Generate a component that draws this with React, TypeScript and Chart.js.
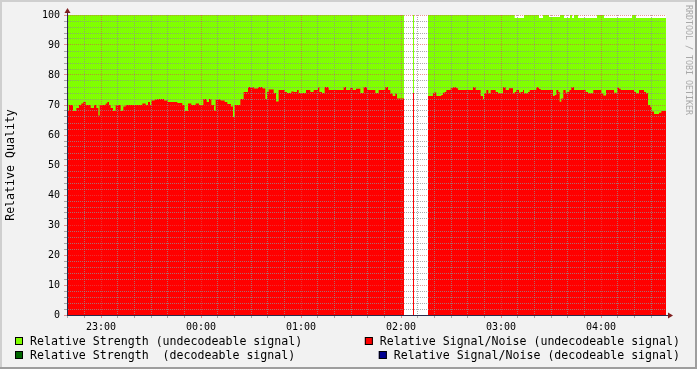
import React, { useEffect, useRef } from "react";
import { Chart, registerables } from "chart.js";

Chart.register(...registerables);

const CANVAS_W = 697;
const CANVAS_H = 369;

// x axis: minutes after 22:00
const xStart = 39.6;
const xEnd = 399;
const hourMinutes = [60, 120, 180, 240, 300, 360];
const hourLabels = ["23:00", "00:00", "01:00", "02:00", "03:00", "04:00"];
const xGridStep = 10; // minutes between minor grid lines
const yMin = 0;
const yMax = 100;
const yGridStep = 2;
const yLabelStep = 10;

// Relative Signal/Noise (undecodeable signal): change points (value holds until next point), segment 1
const snrTimesA = [
  39.6, 40.8, 43.2, 45.2, 46.8, 48.2, 49.4, 50.8, 53.8, 55.8, 57.2, 58.4, 59.2, 62.8, 63.8, 64.8,
  65.8, 67.2, 68.8, 71.8, 73.4, 74.8, 84.8, 86.8, 88.2, 89.4, 90.2, 92.2, 93.8, 97.8, 100.2, 105.8,
  108.8, 110.2, 112.2, 114.2, 116.8, 118.8, 121.4, 123.4, 124.8, 126.2, 127.8, 128.8, 131.8, 134.2,
  135.8, 138.0, 139.2, 140.2, 143.6, 145.6, 148.2, 151.6, 154.2, 157, 158.6, 159.6, 160.6, 163.6,
  165, 166.6, 170.2, 171.6, 174.2, 175.6, 177.6, 178.6, 183, 185.6, 187.6, 190.2, 191, 192.6, 194.2,
  196.6, 205.6, 207, 209.6, 211, 213, 215.6, 217.6, 219.6, 224.6, 226.6, 230.6, 232.2, 233.6, 235,
  236.6, 237.6, 241.8,
];
const snrValuesA = [
  68, 70, 68, 69, 70, 70.5, 71, 70, 69, 70, 69, 66.5, 70, 70.5, 71, 70,
  69, 68, 70, 68, 69.5, 70, 70.5, 70, 71, 70, 71.5, 71.8, 72, 71.5, 71, 70.7,
  70, 68, 70.5, 70, 70.5, 70, 72, 71, 72, 70, 68, 71.8, 71.5, 71,
  70.3, 69.5, 66, 70, 72, 74.3, 76, 75.5, 76, 75.5, 72, 74.3, 75.2, 74,
  71.2, 75, 74.3, 74, 74.5, 74.3, 75, 74, 75, 74.3, 75, 76, 74.3, 74, 76,
  75, 76, 75, 75.7, 75, 75.4, 74, 76, 75, 74, 75, 76, 75, 73.8, 73,
  73.8, 72.2, 72.2,
];
// segment 2 (single sample)
const snrTimesB = [247.2, 247.8];
const snrValuesB = [74, 74];
// segment 3
const snrTimesC = [
  256.2, 259.2, 259.8, 261.2, 264.2, 265.2, 266.2, 267.2, 269.8, 271.2, 273.2, 274.2, 283.2, 284.8,
  287.8, 289.2, 289.8, 291.2, 292.4, 293.8, 296.8, 298.2, 301.2, 302.8, 304.8, 307.2, 308.2, 309.2,
  310.8, 311.8, 313.2, 313.8, 316.2, 317.2, 321.2, 322.8, 323.8, 331.2, 332.2, 333.2, 334.4, 335.2,
  336.2, 337.4, 338.8, 339.8, 341, 342.2, 343.8, 350.8, 352.2, 355.4, 360.2, 361.4, 363, 367.8,
  369.8, 370.8, 371.8, 379.8, 381, 382.8, 385.8, 387, 388.2, 389.4, 390.4, 391.8, 394.8, 396.2, 399,
];
const snrValuesC = [
  73, 73.9, 74.2, 73, 73.3, 74.1, 74.3, 75, 75.6, 75.9, 75.6, 75, 75.9, 75,
  73, 71.9, 73.9, 75, 73.9, 75, 74.3, 73.9, 75.9, 75, 75.6, 73.9, 74.3, 75,
  74.1, 74.3, 75, 73.9, 74.3, 75, 75.9, 75.3, 75, 73, 73.3, 75, 74.3, 71.1,
  72.2, 75, 74.1, 74.3, 75, 75.9, 75, 74.3, 73.9, 75, 73.9, 73.2, 75, 74.1,
  75.9, 75.4, 75, 74.3, 73.9, 75, 74.3, 73.9, 70, 69.4, 67.8, 67, 67.4, 68, 68,
];
const gapTimes = [244, 252];

// Relative Strength (undecodeable signal): change points (value holds until next point)
const strengthTimes = [
  39.6, 241.8, 244, 247.2, 247.8, 252, 256.2, 308.2, 313.8, 322.8, 325.2, 328.8, 335.4, 337.8,
  341.4, 342.6, 343.8, 346.2, 357.6, 361.8, 378.6, 381, 399,
];
const strengthValues = [
  100, 100, null, 100, 100, null, 100, 99, 100, 99, 100, 99.3, 100, 99,
  100, 99, 100, 99, 100, 99, 100, 99, 99,
];

const seriesNames = [
  "Relative Signal/Noise (undecodeable signal)",
  "Relative Strength (undecodeable signal)",
  "Relative Strength  (decodeable signal)",
  "Relative Signal/Noise (decodeable signal)",
];
const seriesColors = ["#ff0000", "#80ff00", "#006600", "#000090"];

const BACK = "#f2f2f2";
const SHADE_A = "#cfcfcf";
const SHADE_B = "#9e9e9e";
const AXIS = "#2a2a4a";
const ARROW = "#801f1f";
const GRID_MINOR = "rgba(143,143,143,0.75)";
const GRID_MAJOR = "rgba(222,79,79,0.6)";
const MONO = "'DejaVu Sans Mono', monospace";

function points(ts: number[], vs: (number | null)[]) {
  return ts.map((t, i) => ({ x: t, y: vs[i] }));
}

function hourLabel(v: number) {
  const i = hourMinutes.indexOf(v);
  return i >= 0 ? hourLabels[i] : "";
}

const decor = {
  id: "decor",
  beforeDraw(chart: any) {
    const { ctx, chartArea: a } = chart;
    ctx.save();
    ctx.fillStyle = BACK;
    ctx.fillRect(0, 0, CANVAS_W, CANVAS_H);
    ctx.fillStyle = SHADE_A;
    ctx.fillRect(0, 0, CANVAS_W, 2);
    ctx.fillRect(0, 0, 2, CANVAS_H);
    ctx.fillStyle = SHADE_B;
    ctx.fillRect(0, CANVAS_H - 2, CANVAS_W, 2);
    ctx.fillRect(CANVAS_W - 2, 0, 2, CANVAS_H);
    ctx.fillStyle = "#ffffff";
    ctx.fillRect(a.left, a.top, a.right - a.left, a.bottom - a.top);
    ctx.restore();
  },
  afterDraw(chart: any) {
    const { ctx, chartArea: a } = chart;
    ctx.save();
    // axis extensions and arrows
    ctx.strokeStyle = AXIS;
    ctx.lineWidth = 1;
    ctx.beginPath();
    ctx.moveTo(a.left + 0.5, a.top);
    ctx.lineTo(a.left + 0.5, a.top - 3);
    ctx.moveTo(a.right, a.bottom + 0.5);
    ctx.lineTo(a.right + 3, a.bottom + 0.5);
    ctx.stroke();
    ctx.fillStyle = ARROW;
    ctx.beginPath();
    ctx.moveTo(a.left - 2.5, a.top - 2);
    ctx.lineTo(a.left + 3.5, a.top - 2);
    ctx.lineTo(a.left + 0.5, a.top - 7);
    ctx.closePath();
    ctx.fill();
    ctx.beginPath();
    ctx.moveTo(a.right + 2, a.bottom - 2.5);
    ctx.lineTo(a.right + 2, a.bottom + 3.5);
    ctx.lineTo(a.right + 7, a.bottom + 0.5);
    ctx.closePath();
    ctx.fill();

    // legend
    ctx.font = `11.6px ${MONO}`;
    ctx.textBaseline = "middle";
    ctx.textAlign = "left";
    const box = (x: number, y: number, color: string) => {
      ctx.fillStyle = color;
      ctx.fillRect(x, y, 8, 8);
      ctx.strokeStyle = "#000";
      ctx.lineWidth = 1;
      ctx.strokeRect(x + 0.5, y + 0.5, 7, 7);
    };
    const rows = [337, 351];
    const leftItems = [1, 2];
    const rightItems = [0, 3];
    leftItems.forEach((idx, r) => {
      box(15, rows[r], seriesColors[idx]);
      ctx.fillStyle = "#000";
      ctx.fillText(seriesNames[idx], 30, rows[r] + 4.5);
    });
    rightItems.forEach((idx, r) => {
      const w = ctx.measureText(seriesNames[idx]).width;
      const tx = 680 - w;
      box(tx - 15, rows[r], seriesColors[idx]);
      ctx.fillStyle = "#000";
      ctx.fillText(seriesNames[idx], tx, rows[r] + 4.5);
    });

    // watermark
    ctx.translate(688, 5);
    ctx.rotate(Math.PI / 2);
    ctx.font = `8.3px ${MONO}`;
    ctx.fillStyle = "#a8a8a8";
    ctx.textAlign = "left";
    ctx.textBaseline = "middle";
    ctx.fillText("RRDTOOL / TOBI OETIKER", 0, 0);
    ctx.restore();
  },
};

export default function App() {
  const ref = useRef<HTMLCanvasElement>(null);
  useEffect(() => {
    const canvas = ref.current;
    if (!canvas) return;

    const snrTimes = [...snrTimesA, gapTimes[0], ...snrTimesB, gapTimes[1], ...snrTimesC];
    const snrValues: (number | null)[] = [...snrValuesA, null, ...snrValuesB, null, ...snrValuesC];

    const xTicks: { value: number }[] = [];
    for (let m = Math.ceil(xStart / xGridStep) * xGridStep; m <= xEnd; m += xGridStep) xTicks.push({ value: m });
    const yTicks: { value: number }[] = [];
    for (let v = yMin; v <= yMax; v += yGridStep) yTicks.push({ value: v });

    const common = {
      stepped: "before" as const,
      fill: "origin",
      borderColor: "transparent",
      borderWidth: 0,
      pointRadius: 0,
      spanGaps: false,
      tension: 0,
    };

    const chart = new Chart(canvas, {
      type: "line",
      data: {
        datasets: [
          { ...common, label: seriesNames[0], data: points(snrTimes, snrValues), backgroundColor: seriesColors[0] },
          { ...common, label: seriesNames[1], data: points(strengthTimes, strengthValues), backgroundColor: seriesColors[1] },
          { ...common, label: seriesNames[2], data: [], backgroundColor: seriesColors[2] },
          { ...common, label: seriesNames[3], data: [], backgroundColor: seriesColors[3] },
        ] as any,
      },
      options: {
        responsive: false,
        animation: false,
        devicePixelRatio: 1,
        events: [],
        layout: { padding: { left: 0, top: 15, right: 31, bottom: 0 } },
        plugins: { legend: { display: false }, tooltip: { enabled: false } },
        scales: {
          x: {
            type: "linear",
            min: xStart,
            max: xEnd,
            afterFit: (s: any) => {
              s.height = 54;
            },
            afterBuildTicks: (s: any) => {
              s.ticks = xTicks.map((t) => ({ ...t }));
            },
            ticks: {
              autoSkip: false,
              maxRotation: 0,
              minRotation: 0,
              padding: 3,
              color: "#000",
              font: { family: MONO, size: 10 },
              callback: (v: any) => hourLabel(Number(v)),
            },
            grid: {
              z: 1,
              lineWidth: 1,
              tickLength: 3,
              color: (c: any) => (c.tick && hourMinutes.includes(c.tick.value) ? GRID_MAJOR : GRID_MINOR),
              tickColor: (c: any) => (c.tick && hourMinutes.includes(c.tick.value) ? GRID_MAJOR : GRID_MINOR),
            },
            border: { display: true, color: AXIS, width: 1, dash: [1, 1], z: 2 },
          },
          y: {
            type: "linear",
            min: yMin,
            max: yMax,
            afterFit: (s: any) => {
              s.width = 67;
            },
            afterBuildTicks: (s: any) => {
              s.ticks = yTicks.map((t) => ({ ...t }));
            },
            ticks: {
              autoSkip: false,
              padding: 4,
              color: "#000",
              font: { family: MONO, size: 10 },
              callback: (v: any) => (Number(v) % yLabelStep === 0 ? String(v) : ""),
            },
            title: {
              display: true,
              text: "Relative Quality",
              color: "#000",
              font: { family: MONO, size: 11.6 },
              padding: { top: 4.5, bottom: 0 },
            },
            grid: {
              z: 1,
              lineWidth: 1,
              tickLength: 3,
              color: (c: any) => (c.tick && c.tick.value % yLabelStep === 0 ? GRID_MAJOR : GRID_MINOR),
              tickColor: (c: any) => (c.tick && c.tick.value % yLabelStep === 0 ? GRID_MAJOR : GRID_MINOR),
            },
            border: { display: true, color: AXIS, width: 1, dash: [1, 1], z: 2 },
          },
        },
      } as any,
      plugins: [decor],
    });
    return () => chart.destroy();
  }, []);

  return (
    <canvas
      ref={ref}
      width={CANVAS_W}
      height={CANVAS_H}
      style={{ position: "fixed", left: 0, top: 0, display: "block", width: CANVAS_W, height: CANVAS_H }}
    />
  );
}
